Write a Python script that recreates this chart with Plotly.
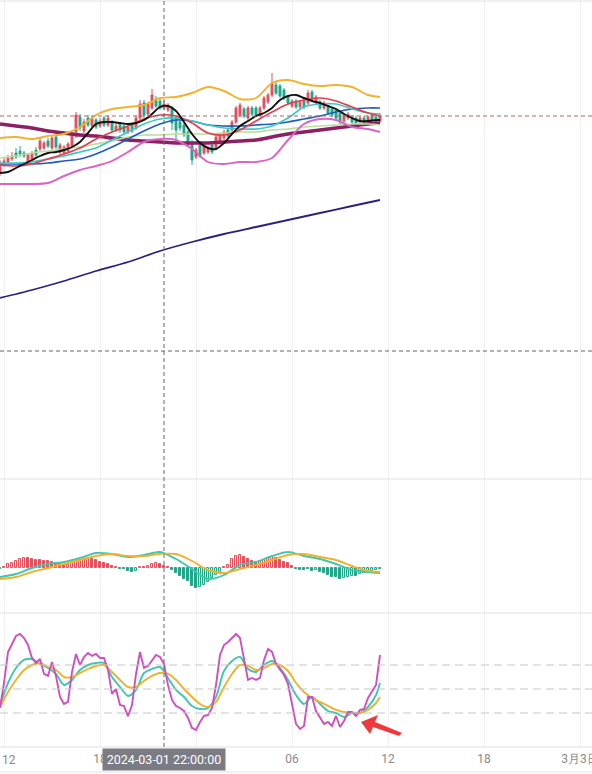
import plotly.graph_objects as go
import pandas as pd

# ---------------- data (15-minute candles, 2024-03-01 11:45 .. 2024-03-02 11:30) ----------------
start_time = "2024-03-01 11:45"
n_candles = 96

open_ = [3328, 3336, 3338, 3341, 3347, 3349, 3347, 3338, 3341, 3350,
         3351, 3352, 3359, 3352, 3363, 3348, 3347, 3349, 3354, 3368,
         3383, 3369, 3382, 3374, 3380, 3374, 3382, 3375, 3378, 3370,
         3376, 3374, 3368, 3376, 3372, 3382, 3397, 3386, 3392, 3401,
         3399, 3392, 3390, 3392, 3382, 3378, 3375, 3368, 3357, 3343,
         3355, 3347, 3348, 3355, 3352, 3357, 3362, 3370, 3370, 3378,
         3385, 3391, 3382, 3392, 3392, 3385, 3392, 3398, 3405, 3415,
         3414, 3410, 3403, 3394, 3399, 3393, 3400, 3397, 3408, 3397,
         3398, 3392, 3393, 3391, 3390, 3387, 3379, 3382, 3383, 3382,
         3378, 3382, 3378, 3385, 3383, 3379]
close = [3337, 3339, 3342, 3344, 3343, 3346, 3344, 3345, 3347, 3345,
         3359, 3357, 3354, 3362, 3353, 3355, 3353, 3356, 3364, 3385,
         3372, 3378, 3375, 3381, 3373, 3379, 3375, 3382, 3370, 3374,
         3370, 3368, 3373, 3369, 3382, 3396, 3385, 3396, 3405, 3394,
         3392, 3396, 3395, 3377, 3370, 3372, 3365, 3355, 3340, 3350,
         3344, 3355, 3352, 3348, 3363, 3365, 3368, 3364, 3378, 3392,
         3395, 3384, 3392, 3386, 3385, 3392, 3402, 3405, 3417, 3407,
         3404, 3402, 3397, 3399, 3393, 3398, 3393, 3407, 3400, 3403,
         3392, 3397, 3387, 3385, 3382, 3378, 3385, 3386, 3378, 3377,
         3382, 3377, 3383, 3379, 3378, 3384]
high = [3340, 3343, 3345, 3348, 3352, 3354, 3349, 3347, 3349, 3353,
        3362, 3359, 3362, 3365, 3367, 3357, 3355, 3358, 3366, 3388,
        3386, 3381, 3385, 3384, 3382, 3382, 3384, 3385, 3380, 3377,
        3378, 3376, 3375, 3378, 3385, 3400, 3400, 3398, 3411, 3404,
        3401, 3399, 3397, 3394, 3384, 3380, 3377, 3370, 3360, 3352,
        3357, 3357, 3354, 3357, 3365, 3367, 3370, 3372, 3380, 3394,
        3397, 3393, 3394, 3394, 3394, 3394, 3404, 3407, 3427, 3418,
        3416, 3412, 3405, 3401, 3401, 3400, 3402, 3410, 3410, 3405,
        3400, 3399, 3395, 3393, 3392, 3389, 3387, 3388, 3385, 3384,
        3384, 3384, 3385, 3387, 3385, 3387]
low = [3324, 3333, 3336, 3339, 3341, 3343, 3342, 3335, 3338, 3342,
       3349, 3350, 3352, 3350, 3351, 3345, 3344, 3347, 3352, 3362,
       3369, 3367, 3373, 3372, 3371, 3372, 3373, 3373, 3368, 3368,
       3367, 3366, 3366, 3367, 3370, 3380, 3382, 3384, 3390, 3392,
       3390, 3390, 3388, 3370, 3357, 3369, 3363, 3353, 3335, 3341,
       3342, 3345, 3346, 3346, 3350, 3355, 3360, 3362, 3368, 3376,
       3383, 3382, 3380, 3384, 3383, 3383, 3390, 3396, 3403, 3405,
       3402, 3400, 3395, 3392, 3391, 3391, 3391, 3395, 3398, 3395,
       3390, 3390, 3385, 3383, 3380, 3376, 3377, 3380, 3376, 3375,
       3376, 3375, 3376, 3377, 3376, 3377]

# overlay lines sampled every hour (every 4th candle + last candle)
boll_upper = [3362, 3363, 3361, 3364, 3366, 3373, 3385, 3391, 3393, 3395, 3402, 3403, 3407,
              3413, 3409, 3401, 3402, 3417, 3420, 3416, 3414, 3415, 3413, 3405, 3403]
boll_lower = [3316, 3316, 3316, 3317, 3324, 3330, 3334, 3339, 3348, 3358, 3361, 3360, 3351,
              3338, 3336, 3338, 3338, 3342, 3360, 3376, 3381, 3380, 3373, 3371, 3368]
ma_purple = [3376, 3374, 3372, 3369, 3367, 3365, 3364, 3362, 3360, 3359, 3358, 3357, 3357,
             3357, 3358, 3359, 3360, 3363, 3366, 3368, 3370, 3372, 3374, 3376, 3377]
ma_red = [3335, 3334, 3336, 3341, 3346, 3352, 3361, 3368, 3374, 3381, 3385, 3384, 3377,
          3367, 3365, 3370, 3379, 3388, 3396, 3400, 3402, 3399, 3393, 3387, 3384]
ma_teal = [3337, 3337, 3338, 3341, 3344, 3348, 3352, 3360, 3368, 3376, 3381, 3382, 3379,
           3375, 3372, 3371, 3371, 3374, 3382, 3393, 3396, 3396, 3391, 3387, 3386]
ma_blue = [3336, 3336, 3336, 3337, 3339, 3341, 3346, 3353, 3361, 3369, 3376, 3380, 3379,
           3375, 3374, 3374, 3375, 3376, 3378, 3381, 3384, 3388, 3391, 3392, 3392]
ma_lightgreen = [3342, 3344, 3347, 3349, 3351, 3353, 3356, 3359, 3363, 3365, 3365, 3366, 3366,
                 3366, 3367, 3368, 3368, 3370, 3371, 3373, 3374, 3375, 3376, 3376, 3375]
# sampled every half hour (every 2nd candle + last)
ma_black = [3327, 3328, 3332, 3336, 3340, 3344, 3347, 3348, 3350, 3353, 3358, 3367, 3376,
            3378, 3378, 3377, 3376, 3377, 3380, 3386, 3393, 3394, 3389, 3378, 3366, 3357,
            3352, 3351, 3357, 3366, 3374, 3379, 3384, 3387, 3392, 3400, 3404, 3405, 3402,
            3399, 3397, 3394, 3391, 3386, 3382, 3379, 3379, 3380, 3380]
# sampled every 2 hours (every 8th candle + last)
ma_navy = [3202, 3210, 3219, 3229, 3238, 3249, 3258, 3266, 3273, 3280, 3287, 3294, 3300]

last_price = 3384
cursor_price = 3149
cursor_time = "2024-03-01 22:00"

# MACD
macd_hist = [-0.3, 0.7, 2.0, 2.7, 3.7, 4.7, 4.8, 4.8, 4.3, 4.0,
             4.0, 3.7, 3.7, 3.2, 2.7, 2.0, 1.3, 1.5, 2.3, 3.2,
             4.0, 4.3, 4.8, 4.3, 4.0, 3.2, 2.7, 1.8, 1.2, 0.7,
             -0.3, -0.7, -1.3, -1.8, -1.3, 0.7, 0.7, 1.2, 2.0, 2.3,
             1.8, 1.2, 0.7, -1.0, -2.7, -4.2, -5.5, -6.7, -8.8, -10.2,
             -9.3, -8.5, -6.8, -5.2, -3.5, -1.8, 0.7, 1.5, 4.3, 6.0,
             6.5, 5.3, 4.3, 3.7, 3.2, 3.7, 4.0, 4.8, 5.3, 4.8,
             4.0, 3.2, 2.3, 1.2, -0.7, -1.0, -1.0, -0.7, -1.3, -1.0,
             -1.8, -2.7, -3.5, -4.3, -4.3, -5.7, -5.2, -4.7, -4.0, -4.0,
             -3.0, -2.3, -1.8, -1.3, -1.0, -0.7]
macd_dif = [-4.5, -3, 0, 2, 3, 5, 7.5, 7, 5.5, 6.5, 8, 4.5, -0.5,
            -5.5, -3.5, 1.5, 3, 6, 8, 6, 4.5, 2, -1, -2, -2.5]
macd_dea = [-5.5, -4.5, -2, 0, 2, 4, 6, 7, 6, 6, 7, 7, 3.5,
            -1, -2.5, -0.5, 1.5, 4, 6.5, 7, 5.5, 4, 1, -1.5, -2]

# KDJ
kdj_j = [26.3, 57.5, 96.3, 106.3, 116.3, 118.8, 113.8, 105, 88.8, 82.5,
         87.5, 68.8, 66.3, 83.8, 66.3, 40, 31.3, 33.8, 71.3, 93.8,
         80, 90, 95, 91.3, 93.8, 88.8, 88.8, 73.8, 43.8, 50,
         30, 28.8, 16, 30, 68.8, 96.3, 76.3, 78.8, 86.3, 92.5,
         90, 81.3, 55, 36.3, 28.8, 26.3, 22.5, 13.8, 1.3, -1.3,
         8.8, 16.3, 17.5, 26.3, 55, 92.5, 105, 108.8, 113.8, 118.8,
         113.8, 88.8, 61.3, 63.8, 61.3, 63.8, 86.3, 100, 96.3, 81.3,
         73.8, 67.5, 56.3, 30, 6.3, 0, 3.8, 40, 40, 22.5,
         13.8, 6.3, 8.8, 3.8, 16.3, 2.5, 10, 21.3, 21.3, 16.3,
         23.8, 25, 38.8, 46.3, 55, 92.5]
kdj_k = [30, 57.5, 76.3, 86.3, 87.5, 81.3, 76.3, 68.8, 55, 61.3,
         73.8, 80, 82.5, 82.5, 65, 52.5, 41.3, 48.8, 70, 75,
         77.5, 63.8, 48.8, 40, 28.8, 25, 26.3, 40, 72.5, 85,
         90, 75, 71.3, 80, 85, 76.3, 61.3, 42.5, 31.3, 40,
         31.3, 22.5, 20, 15, 20, 20, 27.5, 42.5, 57.5]
kdj_d = [27.5, 46.3, 61.3, 73.8, 80, 82.5, 77.5, 73.8, 65, 65,
         70, 75, 78.8, 80, 71.3, 61.3, 52.5, 52.5, 60, 66.3,
         70, 68.8, 61.3, 50, 40, 31.3, 27.5, 33.8, 52.5, 68.8,
         80, 78.8, 73.8, 76.3, 81.3, 80, 72.5, 57.5, 46.3, 38.8,
         33.8, 28.8, 23.8, 21.3, 20, 20, 23.8, 32.5, 40]
kdj_levels = [20, 50, 80]

tick_times = ["2024-03-01 12:00", "2024-03-01 18:00", "2024-03-02 00:00", "2024-03-02 06:00",
              "2024-03-02 12:00", "2024-03-02 18:00", "2024-03-03 00:00"]
tick_text = ["", "18", "", "06", "12", "18", "3月3日"]
first_tick_label = "12"

# ---------------- figure ----------------
times = pd.date_range(start_time, periods=n_candles, freq="15min")
idx_1h = list(range(0, n_candles, 4)) + [n_candles - 1]
idx_30m = list(range(0, n_candles, 2)) + [n_candles - 1]
idx_2h = list(range(0, n_candles, 8)) + [n_candles - 1]
t_1h, t_30m, t_2h = times[idx_1h], times[idx_30m], times[idx_2h]

RED = "#e4505e"
GREEN = "#22a68a"
FONT = "Roboto"
TICK_COLOR = "#8a8a8a"

fig = go.Figure()
fig.add_trace(go.Candlestick(
    x=times, open=open_, high=high, low=low, close=close,
    increasing=dict(line=dict(color=RED, width=1), fillcolor=RED),
    decreasing=dict(line=dict(color=GREEN, width=1), fillcolor=GREEN),
    whiskerwidth=0, xaxis="x", yaxis="y", hoverinfo="skip", showlegend=False))


def line(x, y, color, width, ax="", shape="spline"):
    fig.add_trace(go.Scatter(x=x, y=y, mode="lines", xaxis="x" + ax, yaxis="y" + ax,
                             line=dict(color=color, width=width, shape=shape, smoothing=0.8),
                             hoverinfo="skip", showlegend=False))


line(t_2h, ma_navy, "#2f1f7c", 1.8)
line(t_1h, ma_purple, "#8d1f64", 3.6)
line(t_1h, ma_lightgreen, "#b9dea0", 1.6)
line(t_1h, ma_blue, "#1f5cbf", 1.7)
line(t_1h, ma_teal, "#3ec9c0", 1.7)
line(t_1h, ma_red, "#e0404f", 1.7)
line(t_1h, boll_upper, "#f0b32e", 1.9)
line(t_1h, boll_lower, "#d864c4", 1.9)
line(t_30m, ma_black, "#111111", 1.9)

# MACD histogram: hollow when the bar grows vs the previous one
fills, edges = [], []
for i, v in enumerate(macd_hist):
    c = RED if v >= 0 else GREEN
    prev = macd_hist[i - 1] if i > 0 else v
    edges.append(c)
    fills.append("rgba(255,255,255,0)" if v > prev else c)
fig.add_trace(go.Bar(x=times, y=macd_hist, xaxis="x2", yaxis="y2", width=15 * 60 * 1000 * 0.62,
                     marker=dict(color=fills, line=dict(color=edges, width=1)),
                     hoverinfo="skip", showlegend=False))
line(t_1h, macd_dif, "#3ec7ad", 1.9, "2")
line(t_1h, macd_dea, "#f0b02c", 1.9, "2")

line(t_30m, kdj_k, "#3ec7ad", 1.9, "3")
line(t_30m, kdj_d, "#f0b02c", 1.9, "3")
line(times, kdj_j, "#cf4fc2", 1.9, "3", "linear")

H_TOP, H_BOT, PLOT_H = 1, 747, 746


def py(pix):
    return (H_BOT - pix) / PLOT_H


def px(pix):
    return pix / 592


xrange_ = ["2024-03-01 11:45", "2024-03-03 00:45"]
xcommon = dict(range=xrange_, type="date", showgrid=True, gridcolor="#efefef", gridwidth=1,
               tickvals=tick_times, zeroline=False, showline=False, fixedrange=True,
               automargin=False)
ycommon = dict(showgrid=False, showticklabels=False, zeroline=False, fixedrange=True,
               automargin=False)
fig.update_layout(
    width=592, height=774, margin=dict(l=0, r=0, t=H_TOP, b=774 - H_BOT, pad=0),
    paper_bgcolor="white", plot_bgcolor="white", showlegend=False,
    font=dict(family=FONT, size=12, color="#888888"),
    bargap=0,
    xaxis=dict(anchor="y", showticklabels=False, rangeslider=dict(visible=False), **xcommon),
    xaxis2=dict(anchor="y2", showticklabels=False, **xcommon),
    xaxis3=dict(anchor="y3", showticklabels=True, ticktext=tick_text, ticks="",
                ticklabeloverflow="allow", ticklabelstandoff=3,
                tickfont=dict(family=FONT, size=12, color=TICK_COLOR), **xcommon),
    yaxis=dict(domain=[py(479), 1], range=[3021, 3499], **ycommon),
    yaxis2=dict(domain=[py(613), py(479)], range=[-22.5, 44.5], **ycommon),
    yaxis3=dict(domain=[0, py(613)], range=[-22.5, 145], **ycommon),
)

shapes = []
# panel borders
for yy in [1, 479, 613, 747, 772]:
    shapes.append(dict(type="line", xref="paper", yref="paper", x0=0, x1=1, y0=py(yy), y1=py(yy),
                       line=dict(color="#e2e2e2", width=1)))
# KDJ reference levels
for lv in kdj_levels:
    shapes.append(dict(type="line", xref="paper", yref="y3", x0=0, x1=1, y0=lv, y1=lv,
                       line=dict(color="#c6c6c6", width=1, dash="8px,5px")))
# last price line
shapes.append(dict(type="line", xref="paper", yref="y", x0=0, x1=1, y0=last_price, y1=last_price,
                   line=dict(color="#a86a6a", width=1, dash="4px,3px")))
# crosshair
shapes.append(dict(type="line", xref="paper", yref="y", x0=0, x1=1, y0=cursor_price, y1=cursor_price,
                   line=dict(color="#666666", width=1, dash="4px,3px")))
shapes.append(dict(type="line", xref="x3", yref="paper", x0=cursor_time, x1=cursor_time, y0=0, y1=1,
                   line=dict(color="#666666", width=1, dash="4px,3px")))
# red arrow
pts = [(361, 722), (378, 715), (375, 722), (402, 733), (399, 736), (373, 727), (370, 734)]
path = "M " + " L ".join(f"{px(a):.5f},{py(b):.5f}" for a, b in pts) + " Z"
shapes.append(dict(type="path", xref="paper", yref="paper", path=path,
                   fillcolor="#f03a3a", line=dict(width=0), layer="above"))
fig.update_layout(shapes=shapes)

# first tick label, kept inside the left edge like the original
fig.add_annotation(x=0, xref="paper", xanchor="left", y=py(760), yref="paper", yanchor="middle",
                   text=first_tick_label, showarrow=False,
                   font=dict(family=FONT, size=12, color=TICK_COLOR))

fig.add_annotation(x=cursor_time, xref="x3", xanchor="center", y=py(759.5), yref="paper",
                   yanchor="middle", text="2024-03-01 22:00:00", showarrow=False,
                   font=dict(family=FONT, size=12.5, color="white"),
                   bgcolor="#7b7b84", width=122, height=21, borderpad=0)

fig.write_html("out.html", config={"displayModeBar": False},
               post_script="document.body.style.margin='0';document.body.style.overflow='hidden';")
